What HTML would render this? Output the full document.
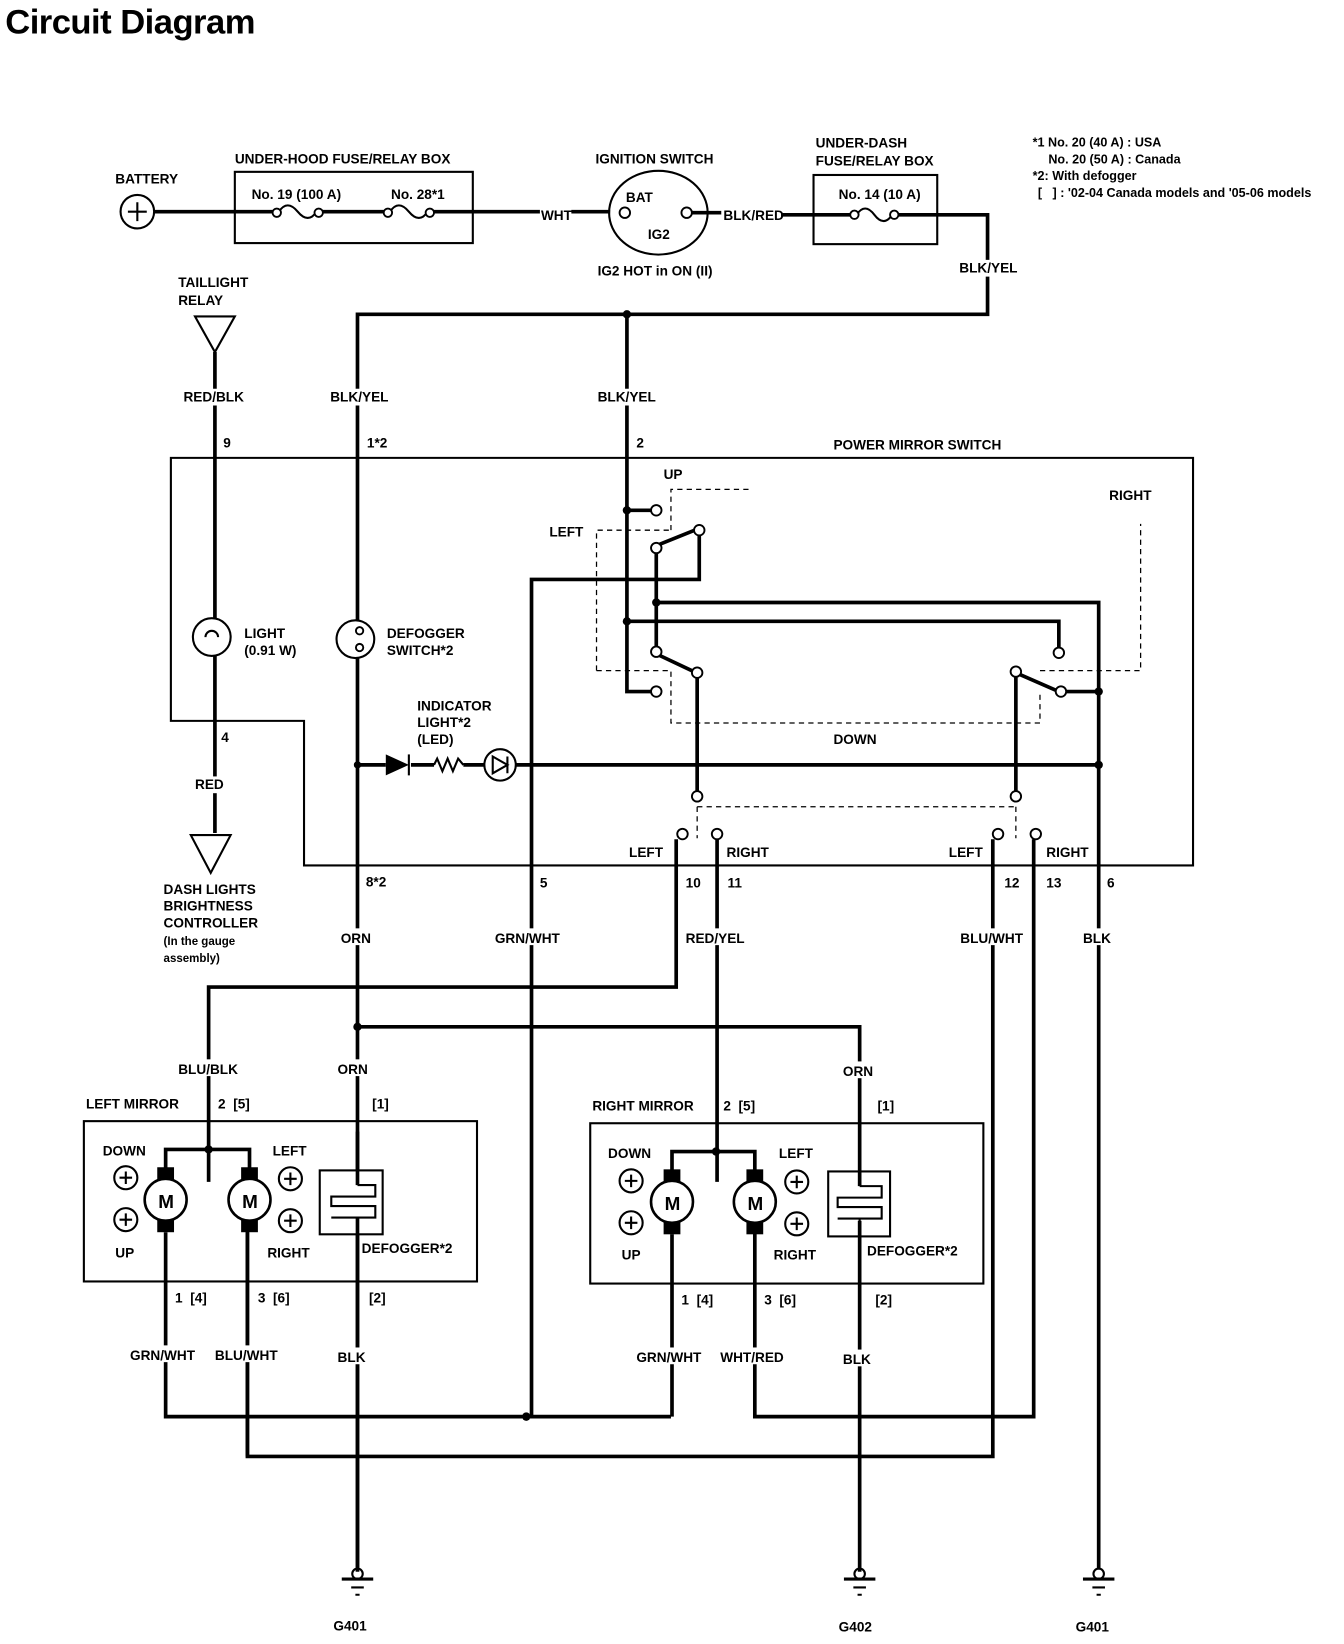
<!DOCTYPE html>
<html><head><meta charset="utf-8"><style>
html,body{margin:0;padding:0;background:#fff;width:1344px;height:1644px;overflow:hidden}
svg{display:block}
text{font-family:"Liberation Sans Narrow","Liberation Sans",sans-serif;font-weight:bold;font-size:13px;fill:#000}
.w{stroke:#000;stroke-width:3.5;fill:none}
.t{stroke:#000;stroke-width:2;fill:none}
.d{stroke:#000;stroke-width:1.2;fill:none;stroke-dasharray:5 4}
.c{stroke:#000;stroke-width:1.8;fill:#fff}
</style></head><body>
<svg width="1344" height="1644" viewBox="0 0 1282 1569" preserveAspectRatio="none">
<text x="5" y="32" style="font-family:'Liberation Sans',sans-serif;font-size:33px;letter-spacing:-0.5px">Circuit Diagram</text>

<!-- top row -->
<circle cx="131" cy="202" r="16" class="t"/>
<path d="M122 202h18M131 193v18" class="t"/>
<text x="110" y="175">BATTERY</text>
<rect x="224" y="164" width="227" height="68" class="t"/>
<text x="224" y="156">UNDER-HOOD FUSE/RELAY BOX</text>
<text x="240" y="190">No. 19 (100 A)</text>
<text x="373" y="190">No. 28*1</text>
<path d="M147 202H262M306 202H368M412 202H515M545 202H582" class="w"/>
<path d="M266 202q8 -12 18 0t18 0M372 202q8 -12 18 0t18 0" class="t"/>
<circle cx="264" cy="203" r="4" class="c"/><circle cx="304" cy="203" r="4" class="c"/>
<circle cx="370" cy="203" r="4" class="c"/><circle cx="410" cy="203" r="4" class="c"/>
<text x="516" y="210">WHT</text>
<ellipse cx="628" cy="203" rx="47" ry="40" class="t"/>
<circle cx="596" cy="203" r="5" class="c"/><circle cx="655" cy="203" r="5" class="c"/>
<text x="597" y="193">BAT</text><text x="618" y="228">IG2</text>
<text x="568" y="156">IGNITION SWITCH</text>
<text x="570" y="263">IG2 HOT in ON (II)</text>
<path d="M660 203H688M745 205H812M856 205H942V300H341V1498" class="w"/>
<text x="690" y="210">BLK/RED</text>
<rect x="776" y="167" width="118" height="66" class="t"/>
<text x="778" y="141">UNDER-DASH</text><text x="778" y="158">FUSE/RELAY BOX</text>
<text x="800" y="190">No. 14 (10 A)</text>
<path d="M817 205q8 -12 17 0t17 0" class="t"/>
<circle cx="815" cy="205" r="4" class="c"/><circle cx="853" cy="205" r="4" class="c"/>
<rect x="930" y="248" width="40" height="16" fill="#fff"/>
<text x="915" y="260">BLK/YEL</text>
<text x="985" y="140" style="font-size:12px">*1 No. 20 (40 A) : USA</text>
<text x="1000" y="156" style="font-size:12px">No. 20 (50 A) : Canada</text>
<text x="985" y="172" style="font-size:12px">*2: With defogger</text>
<text x="990" y="188" style="font-size:12px">[ &#160; ] : '02-04 Canada models and '05-06 models</text>

<!-- taillight -->
<text x="170" y="274">TAILLIGHT</text><text x="170" y="291">RELAY</text>
<path d="M186 302H224L205 336Z" class="t"/>
<path d="M205 336V590M205 626V795" class="w"/>
<rect x="174" y="371" width="58" height="16" fill="#fff"/><text x="175" y="383">RED/BLK</text><text x="213" y="427">9</text>
<circle cx="202" cy="608" r="18" class="t" style="fill:#fff"/><path d="M196 608a6 6 0 1 1 12 0" class="t"/>
<text x="233" y="609">LIGHT</text><text x="233" y="625">(0.91 W)</text>
<text x="211" y="708">4</text><rect x="185" y="741" width="28" height="16" fill="#fff"/><text x="186" y="753">RED</text>
<path d="M182 797H220L201 833Z" class="t"/>
<text x="156" y="853">DASH LIGHTS</text><text x="156" y="869">BRIGHTNESS</text><text x="156" y="885">CONTROLLER</text>
<text x="156" y="902" style="font-size:11px">(In the gauge</text><text x="156" y="918" style="font-size:11px">assembly)</text>

<!-- defogger switch -->
<circle cx="339" cy="610" r="18" class="t" style="fill:#fff"/>
<circle cx="343" cy="602" r="3.5" class="c"/><circle cx="343" cy="618" r="3.5" class="c"/>
<text x="369" y="609">DEFOGGER</text><text x="369" y="625">SWITCH*2</text>
<rect x="314" y="371" width="58" height="16" fill="#fff"/><text x="315" y="383">BLK/YEL</text><text x="350" y="427">1*2</text>
<text x="349" y="846">8*2</text>
<rect x="324" y="886" width="28" height="16" fill="#fff"/><text x="325" y="900">ORN</text>

<!-- power mirror switch box -->
<path d="M163 437H1138V826H290V688H163Z" class="t"/>
<text x="795" y="429">POWER MIRROR SWITCH</text>
<circle cx="341" cy="730" r="3.5"/>
<path d="M341 730H368M392 730H414M442 730H462M492 730H1048" class="w"/>
<path d="M368 720V740L390 730Z" fill="#000"/><path d="M390 720V740" class="t"/>
<path d="M414 730l3 -6 5 12 5 -12 5 12 5 -12 5 6" class="t"/>
<circle cx="477" cy="730" r="15" class="t" style="fill:#fff"/><path d="M470 722V738L484 730Z M484 722V738" class="t"/>
<text x="398" y="678">INDICATOR</text><text x="398" y="694">LIGHT*2</text><text x="398" y="710">(LED)</text>

<!-- switch internals -->
<circle cx="598" cy="300" r="4"/>
<path d="M598 300V660H622" class="w"/>
<rect x="569" y="371" width="58" height="16" fill="#fff"/><text x="570" y="383">BLK/YEL</text><text x="607" y="427">2</text>
<text x="633" y="457">UP</text><text x="524" y="512">LEFT</text><text x="1058" y="477">RIGHT</text><text x="795" y="710">DOWN</text>
<circle cx="598" cy="487" r="4"/><path d="M598 487H622" class="w"/>
<path d="M626 523V620M626 575H1048V1498M598 593H1010V619M667 506V553H507V1352" class="w"/>
<circle cx="626" cy="575" r="4"/><circle cx="598" cy="593" r="4"/>
<path d="M628 520L665 505M628 625L664 642M971 643L1010 660" class="w"/>
<path d="M665 646V758M969 645V758M1016 660H1048" class="w"/>
<circle cx="1048" cy="660" r="4"/><circle cx="1048" cy="730" r="4"/>
<circle cx="626" cy="487" r="5" class="c"/><circle cx="667" cy="506" r="5" class="c"/><circle cx="626" cy="523" r="5" class="c"/>
<circle cx="626" cy="622" r="5" class="c"/><circle cx="665" cy="642" r="5" class="c"/><circle cx="626" cy="660" r="5" class="c"/>
<circle cx="1010" cy="623" r="5" class="c"/><circle cx="969" cy="641" r="5" class="c"/><circle cx="1012" cy="660" r="5" class="c"/>
<path d="M640 506V467H715M569 640V506H640M569 640H640V690H992V662M992 640H1088V500" class="d"/>
<path d="M665 770V800M969 770V800M665 770H969" class="d"/>
<circle cx="665" cy="760" r="5" class="c"/><circle cx="969" cy="760" r="5" class="c"/>
<circle cx="651" cy="796" r="5" class="c"/><circle cx="684" cy="796" r="5" class="c"/>
<circle cx="952" cy="796" r="5" class="c"/><circle cx="988" cy="796" r="5" class="c"/>
<text x="600" y="818">LEFT</text><text x="693" y="818">RIGHT</text><text x="905" y="818">LEFT</text><text x="998" y="818">RIGHT</text>
<text x="515" y="847">5</text><text x="654" y="847">10</text><text x="694" y="847">11</text>
<text x="958" y="847">12</text><text x="998" y="847">13</text><text x="1056" y="847">6</text>

<!-- outputs -->
<path d="M645 801V942H199V1128M684 801V1128M947 801V1390H236V1165M986 801V1352H720V1165M341 980H820V1130" class="w"/>
<circle cx="341" cy="980" r="4"/>
<rect x="472" y="886" width="62" height="16" fill="#fff"/><text x="472" y="900">GRN/WHT</text>
<rect x="654" y="886" width="52" height="16" fill="#fff"/><text x="654" y="900">RED/YEL</text>
<rect x="916" y="886" width="60" height="16" fill="#fff"/><text x="916" y="900">BLU/WHT</text>
<rect x="1033" y="886" width="30" height="16" fill="#fff"/><text x="1033" y="900">BLK</text>
<rect x="170" y="1011" width="56" height="16" fill="#fff"/><text x="170" y="1025">BLU/BLK</text>
<rect x="322" y="1011" width="30" height="16" fill="#fff"/><text x="322" y="1025">ORN</text>
<rect x="804" y="1013" width="30" height="16" fill="#fff"/><text x="804" y="1027">ORN</text>

<!-- left mirror -->
<rect x="80" y="1070" width="375" height="153" class="t"/>
<text x="82" y="1058">LEFT MIRROR</text><text x="208" y="1058">2 &#160;[5]</text><text x="355" y="1058">[1]</text>
<path d="M158 1128V1097H238V1128" class="w"/><circle cx="199" cy="1097" r="4"/>
<rect x="150" y="1114" width="16" height="62"/><rect x="230" y="1114" width="16" height="62"/>
<circle cx="158" cy="1145" r="20" class="c" style="stroke-width:2.5"/><circle cx="238" cy="1145" r="20" class="c" style="stroke-width:2.5"/>
<text x="151" y="1153" style="font-size:18px">M</text><text x="231" y="1153" style="font-size:18px">M</text>
<path d="M158 1176V1352H640M236 1176V1390" class="w"/>
<circle cx="502" cy="1352" r="4"/>
<circle cx="120" cy="1124" r="11" class="t"/><circle cx="120" cy="1164" r="11" class="t"/>
<circle cx="277" cy="1125" r="11" class="t"/><circle cx="277" cy="1165" r="11" class="t"/>
<path d="M114 1124h12M120 1118v12M114 1164h12M120 1158v12M271 1125h12M277 1119v12M271 1165h12M277 1159v12" class="t"/>
<text x="98" y="1103">DOWN</text><text x="110" y="1200">UP</text><text x="260" y="1103">LEFT</text><text x="255" y="1200">RIGHT</text>
<rect x="305" y="1117" width="60" height="61" fill="#fff" class="t" style="fill:#fff"/>
<path d="M341 1131H358V1142H316V1151H358V1162H316M341 1162V1164" class="t"/>
<path d="M341 1080V1131M341 1162V1500" class="w"/>
<text x="345" y="1196">DEFOGGER*2</text>
<text x="167" y="1243">1 &#160;[4]</text><text x="246" y="1243">3 &#160;[6]</text><text x="352" y="1243">[2]</text>
<rect x="124" y="1284" width="62" height="16" fill="#fff"/><text x="124" y="1298">GRN/WHT</text>
<rect x="205" y="1284" width="60" height="16" fill="#fff"/><text x="205" y="1298">BLU/WHT</text>
<rect x="322" y="1286" width="26" height="16" fill="#fff"/><text x="322" y="1300">BLK</text>

<!-- right mirror -->
<rect x="563" y="1072" width="375" height="153" class="t"/>
<text x="565" y="1060">RIGHT MIRROR</text><text x="690" y="1060">2 &#160;[5]</text><text x="837" y="1060">[1]</text>
<path d="M641 1130V1099H720V1130" class="w"/><circle cx="683" cy="1099" r="4"/>
<rect x="633" y="1116" width="16" height="62"/><rect x="712" y="1116" width="16" height="62"/>
<circle cx="641" cy="1147" r="20" class="c" style="stroke-width:2.5"/><circle cx="720" cy="1147" r="20" class="c" style="stroke-width:2.5"/>
<text x="634" y="1155" style="font-size:18px">M</text><text x="713" y="1155" style="font-size:18px">M</text>
<path d="M641 1178V1352" class="w"/>
<circle cx="602" cy="1127" r="11" class="t"/><circle cx="602" cy="1167" r="11" class="t"/>
<circle cx="760" cy="1128" r="11" class="t"/><circle cx="760" cy="1168" r="11" class="t"/>
<path d="M596 1127h12M602 1121v12M596 1167h12M602 1161v12M754 1128h12M760 1122v12M754 1168h12M760 1162v12" class="t"/>
<text x="580" y="1105">DOWN</text><text x="593" y="1202">UP</text><text x="743" y="1105">LEFT</text><text x="738" y="1202">RIGHT</text>
<rect x="790" y="1118" width="59" height="62" class="t"/>
<path d="M820 1132H841V1143H799V1152H841V1163H799M820 1163V1167" class="t"/>
<path d="M820 1130V1132M820 1165V1500" class="w"/>
<text x="827" y="1198">DEFOGGER*2</text>
<text x="650" y="1245">1 &#160;[4]</text><text x="729" y="1245">3 &#160;[6]</text><text x="835" y="1245">[2]</text>
<rect x="607" y="1286" width="62" height="16" fill="#fff"/><text x="607" y="1300">GRN/WHT</text>
<rect x="687" y="1286" width="60" height="16" fill="#fff"/><text x="687" y="1300">WHT/RED</text>
<rect x="804" y="1288" width="26" height="16" fill="#fff"/><text x="804" y="1302">BLK</text>

<!-- grounds -->
<g class="t">
<circle cx="341" cy="1502" r="5"/><path d="M326 1507H356" style="stroke-width:3"/><path d="M335 1515h12M339 1522h4"/>
<circle cx="820" cy="1502" r="5"/><path d="M805 1507H835" style="stroke-width:3"/><path d="M814 1515h12M818 1522h4"/>
<circle cx="1048" cy="1502" r="5"/><path d="M1033 1507H1063" style="stroke-width:3"/><path d="M1042 1515h12M1046 1522h4"/>
</g>
<text x="318" y="1556">G401</text><text x="800" y="1557">G402</text><text x="1026" y="1557">G401</text>
</svg>
</body></html>
